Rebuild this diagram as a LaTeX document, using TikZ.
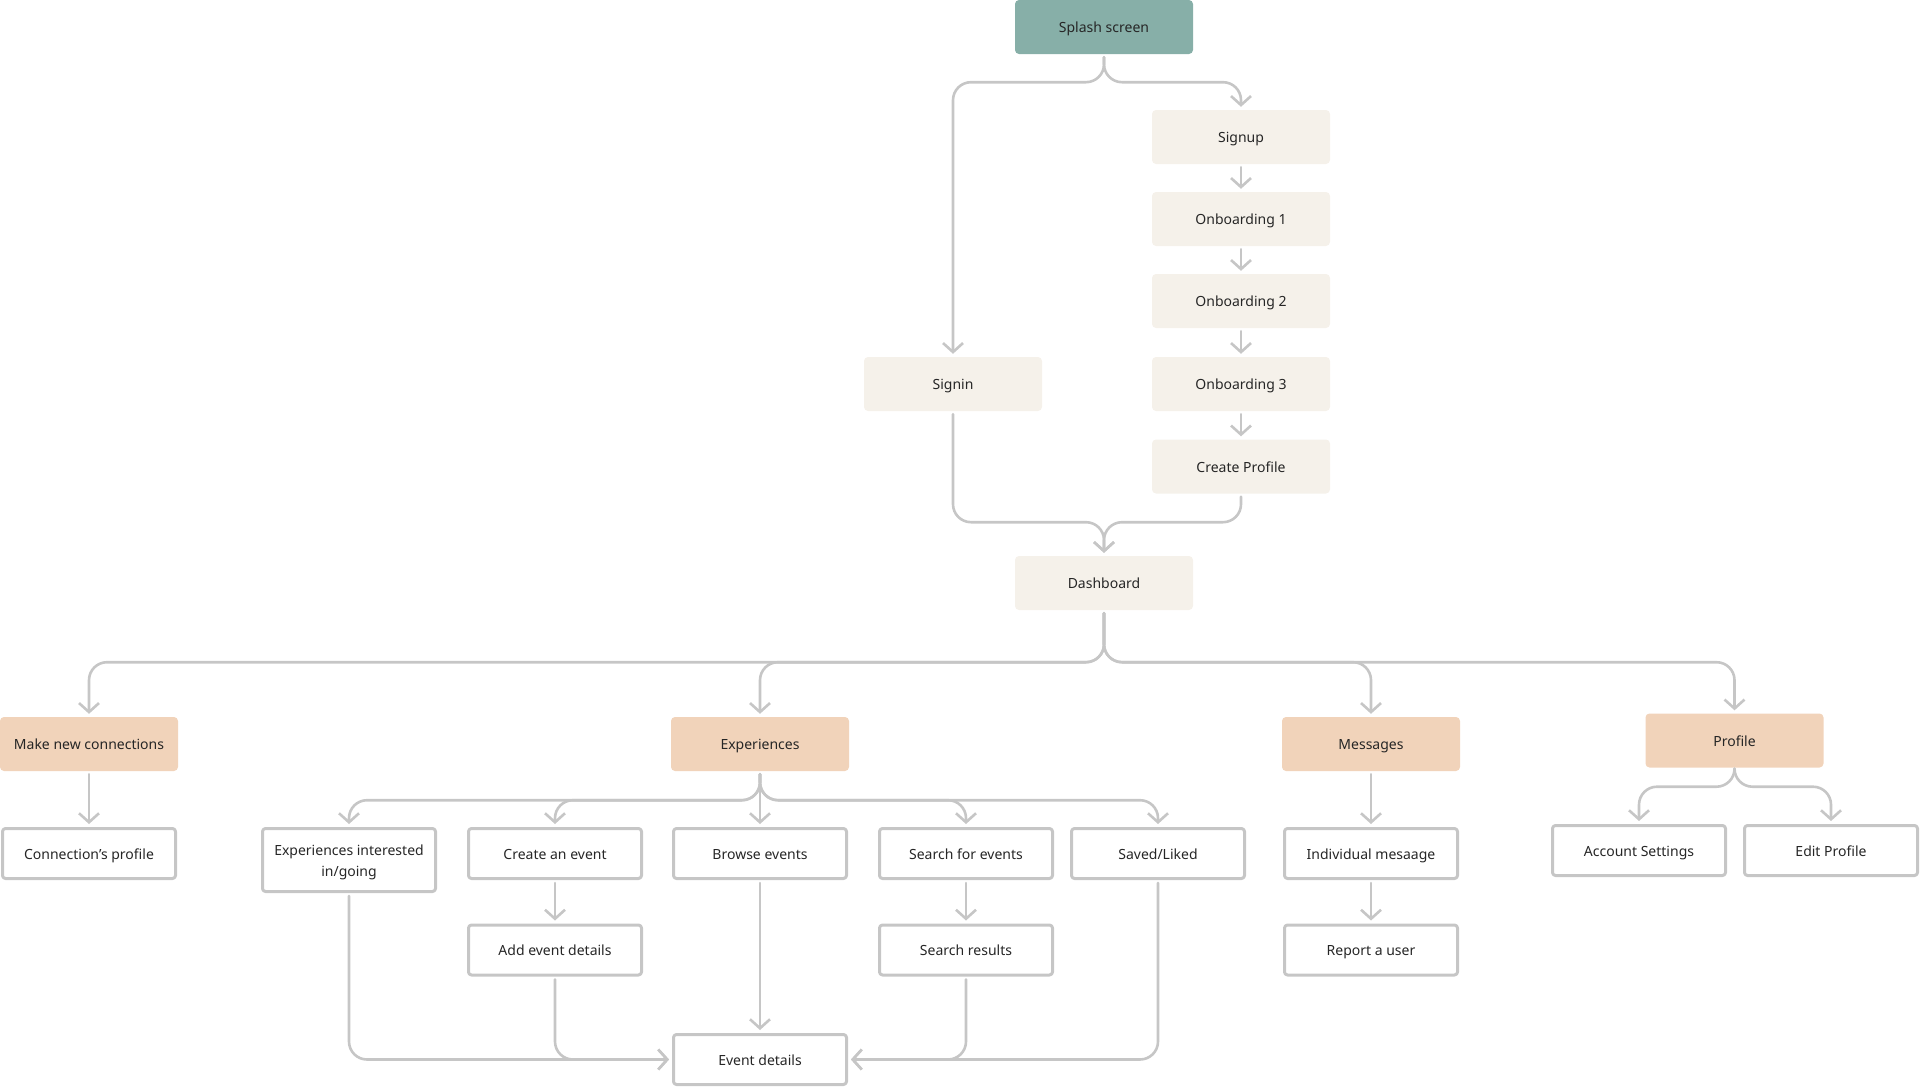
\documentclass[tikz,border=0pt]{standalone}
\usepackage{fontspec}
\setmainfont{Noto Sans}
\usetikzlibrary{arrows.meta}
\definecolor{splashgreen}{HTML}{87AFA8}
\definecolor{screencream}{HTML}{F5F1EA}
\definecolor{sectionpeach}{HTML}{F1D3BA}
\definecolor{linegray}{HTML}{C6C6C6}
\definecolor{textgray}{HTML}{262626}
\begin{document}
\begin{tikzpicture}[x=1pt,y=-1pt,line join=round,line cap=round,>={Straight Barb[length=9pt,width=20pt]},
	screen/.style={minimum width=178pt,minimum height=54pt,inner sep=0pt,rounded corners=4pt,text=textgray,
		text height=13pt,text depth=2pt,font=\fontsize{14}{21}\selectfont},
	page/.style={screen,draw=linegray,line width=3pt,minimum width=173pt,minimum height=50pt,rounded corners=3pt},
	flow/.style={draw=linegray,line width=2.6pt,rounded corners=18pt,shorten <=3pt,shorten >=3pt,->}]
	\useasboundingbox (0,0) rectangle (1920,1087);
	%%Các màn hình chính
	\node[screen,fill=splashgreen] (splash) at (1104,27) {Splash screen};
	\node[screen,fill=screencream] (signup) at (1241,137) {Signup};
	\node[screen,fill=screencream] (onb1) at (1241,219) {Onboarding 1};
	\node[screen,fill=screencream] (onb2) at (1241,301) {Onboarding 2};
	\node[screen,fill=screencream] (onb3) at (1241,384) {Onboarding 3};
	\node[screen,fill=screencream] (create) at (1241,466.5) {Create Profile};
	\node[screen,fill=screencream] (signin) at (953,384) {Signin};
	\node[screen,fill=screencream] (dash) at (1104,583) {Dashboard};
	%%Các mục của Dashboard
	\node[screen,fill=sectionpeach] (connect) at (89,744) {Make new connections};
	\node[screen,fill=sectionpeach] (exper) at (760,744) {Experiences};
	\node[screen,fill=sectionpeach] (msgs) at (1371,744) {Messages};
	\node[screen,fill=sectionpeach] (profile) at (1734.5,740.5) {Profile};
	%%Các trang con
	\node[page] (connprof) at (89,853.5) {Connection’s profile};
	\node[page,minimum height=63pt,align=center,text height=35pt,text depth=2pt] (going) at (349,860) {Experiences interested\\in/going};
	\node[page] (newevent) at (555,853.5) {Create an event};
	\node[page] (browse) at (760,853.5) {Browse events};
	\node[page] (search) at (966,853.5) {Search for events};
	\node[page] (saved) at (1158,853.5) {Saved/Liked};
	\node[page] (single) at (1371,853.5) {Individual mesaage};
	\node[page] (account) at (1639,850.5) {Account Settings};
	\node[page] (editprof) at (1831,850.5) {Edit Profile};
	\node[page] (addev) at (555,950) {Add event details};
	\node[page] (results) at (966,950) {Search results};
	\node[page] (report) at (1371,950) {Report a user};
	\node[page] (evdet) at (760,1059.5) {Event details};
	%%Vẽ các mũi tên
	\draw[flow] (splash.south) -- ++(0,28) -| (signin.north);
	\draw[flow] (splash.south) -- ++(0,28) -| (signup.north);
	\draw[flow] (signup) -- (onb1);
	\draw[flow] (onb1) -- (onb2);
	\draw[flow] (onb2) -- (onb3);
	\draw[flow] (onb3) -- (create);
	\draw[flow] (signin.south) -- ++(0,111) -| (dash.north);
	\draw[flow] (create.south) -- ++(0,28.5) -| (dash.north);
	\foreach \s in {connect,exper,msgs,profile}
	\draw[flow] (dash.south) -- ++(0,52) -| (\s.north);
	\draw[flow] (connect) -- (connprof);
	\foreach \s in {going,newevent,search,saved}
	\draw[flow] (exper.south) -- ++(0,29) -| (\s.north);
	\draw[flow] (exper) -- (browse);
	\draw[flow] (newevent) -- (addev);
	\draw[flow] (search) -- (results);
	\draw[flow] (msgs) -- (single);
	\draw[flow] (single) -- (report);
	\foreach \s in {account,editprof}
	\draw[flow] (profile.south) -- ++(0,19) -| (\s.north);
	%%Về trang Event details
	\draw[flow] (going.south) |- (evdet.west);
	\draw[flow] (addev.south) |- (evdet.west);
	\draw[flow] (browse) -- (evdet);
	\draw[flow] (results.south) |- (evdet.east);
	\draw[flow] (saved.south) |- (evdet.east);
\end{tikzpicture}
\end{document}
